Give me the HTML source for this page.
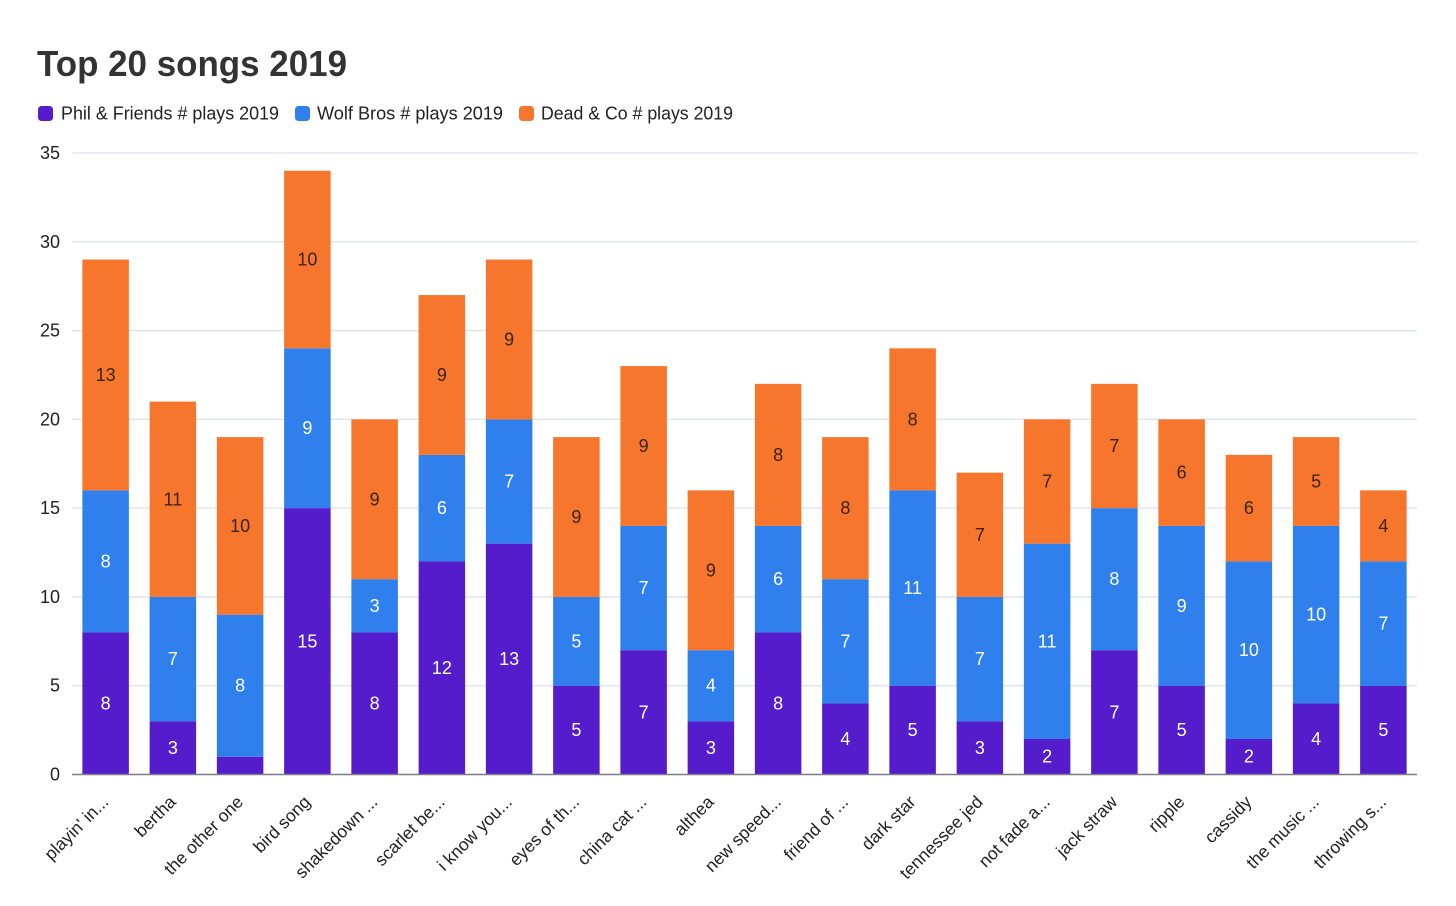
<!DOCTYPE html>
<html lang="en">
<head>
<meta charset="utf-8">
<title>Top 20 songs 2019</title>
<style>
html,body{margin:0;padding:0;background:#fff;}
svg{display:block;font-family:"Liberation Sans",sans-serif;}
</style>
</head>
<body>
<svg id="chart" xmlns="http://www.w3.org/2000/svg" width="1456" height="906" viewBox="0 0 1456 906">
  <rect x="0" y="0" width="1456" height="906" fill="#ffffff"/>
  <text x="37" y="76" font-size="36" font-weight="700" fill="#333333" textLength="310" lengthAdjust="spacingAndGlyphs">Top 20 songs 2019</text>
  <g>
    <g>
      <rect x="38" y="106" width="15" height="15" rx="3.500" fill="#551ccb"/>
      <text x="61" y="119.500" font-size="18" fill="#222222" textLength="218" lengthAdjust="spacingAndGlyphs">Phil &amp; Friends # plays 2019</text>
    </g>
    <g>
      <rect x="295" y="106" width="15" height="15" rx="3.500" fill="#2f80ed"/>
      <text x="317" y="119.500" font-size="18" fill="#222222" textLength="186" lengthAdjust="spacingAndGlyphs">Wolf Bros # plays 2019</text>
    </g>
    <g>
      <rect x="519" y="106" width="15" height="15" rx="3.500" fill="#f7762d"/>
      <text x="541" y="119.500" font-size="18" fill="#222222" textLength="192" lengthAdjust="spacingAndGlyphs">Dead &amp; Co # plays 2019</text>
    </g>
  </g>
  <g id="grid"></g>
  <g id="yticks"></g>
  <g id="bars"></g>
  <line x1="72" x2="1417" y1="774.500" y2="774.500" stroke="#7d7d88" stroke-width="1.500"/>
  <g id="xticks"></g>
</svg>
<script>
const categories = ["playin' in...", "bertha", "the other one", "bird song", "shakedown ...", "scarlet be...", "i know you...", "eyes of th...", "china cat ...", "althea", "new speed...", "friend of ...", "dark star", "tennessee jed", "not fade a...", "jack straw", "ripple", "cassidy", "the music ...", "throwing s..."];
const philPlays = [8, 3, 1, 15, 8, 12, 13, 5, 7, 3, 8, 4, 5, 3, 2, 7, 5, 2, 4, 5];
const wolfPlays = [8, 7, 8, 9, 3, 6, 7, 5, 7, 4, 6, 7, 11, 7, 11, 8, 9, 10, 10, 7];
const deadPlays = [13, 11, 10, 10, 9, 9, 9, 9, 9, 9, 8, 8, 8, 7, 7, 7, 6, 6, 5, 4];
const yTickLabels = [0, 5, 10, 15, 20, 25, 30, 35];

const NS = 'http://www.w3.org/2000/svg';
const plotLeft = 72, plotRight = 1417, plotBottom = 774.5, plotTop = 153, yMax = 35;
const barWidth = 46.5;
const seriesList = [
  { key: 'phil', values: philPlays, color: '#551ccb', text: '#ffffff' },
  { key: 'wolf', values: wolfPlays, color: '#2f80ed', text: '#ffffff' },
  { key: 'dead', values: deadPlays, color: '#f7762d', text: '#3a2415' }
];
function yScale(v) { return plotBottom - (v / yMax) * (plotBottom - plotTop); }
function xCenter(i) { return plotLeft + (i + 0.5) * (plotRight - plotLeft) / categories.length; }

const gridG = document.getElementById('grid');
const yG = document.getElementById('yticks');
yTickLabels.forEach(function (t) {
  if (t !== 0) {
    const gl = document.createElementNS(NS, 'line');
    
    
    gl.setAttribute('x1', plotLeft);
    gl.setAttribute('x2', plotRight);
    gl.setAttribute('y1', yScale(t));
    gl.setAttribute('y2', yScale(t));
    gl.setAttribute('stroke', '#dde1ec');
    gl.setAttribute('stroke-width', '1.3');
    gridG.appendChild(gl);
  }
  const lab = document.createElementNS(NS, 'text');
  
  
  lab.setAttribute('x', 60);
  lab.setAttribute('y', yScale(t) + 6);
  lab.setAttribute('text-anchor', 'end');
  lab.setAttribute('font-size', '18');
  lab.setAttribute('fill', '#222222');
  lab.textContent = t;
  yG.appendChild(lab);
});

const barsG = document.getElementById('bars');
categories.forEach(function (c, i) {
  let base = 0;
  seriesList.forEach(function (s) {
    const v = s.values[i];
    const yTop = yScale(base + v);
    const yBot = yScale(base);
    const r = document.createElementNS(NS, 'rect');
    
    
    r.setAttribute('x', xCenter(i) - barWidth / 2);
    r.setAttribute('y', yTop);
    r.setAttribute('width', barWidth);
    r.setAttribute('height', yBot - yTop);
    r.setAttribute('fill', s.color);
    barsG.appendChild(r);
    if (v >= 2) {
      const t = document.createElementNS(NS, 'text');
      
      
      t.setAttribute('x', xCenter(i));
      t.setAttribute('y', (yTop + yBot) / 2 + 6);
      t.setAttribute('text-anchor', 'middle');
      t.setAttribute('font-size', '18');
      t.setAttribute('fill', s.text);
      t.textContent = v;
      barsG.appendChild(t);
    }
    base += v;
  });
});

const xG = document.getElementById('xticks');
categories.forEach(function (c, i) {
  const t = document.createElementNS(NS, 'text');
  
  
  const ax = xCenter(i) + 4;
  const ay = 803;
  t.setAttribute('x', ax);
  t.setAttribute('y', ay);
  t.setAttribute('text-anchor', 'end');
  t.setAttribute('font-size', '17.5');
  t.setAttribute('fill', '#222222');
  t.setAttribute('transform', 'rotate(-45 ' + ax + ' ' + ay + ')');
  t.textContent = c;
  xG.appendChild(t);
});
</script>
</body>
</html>
